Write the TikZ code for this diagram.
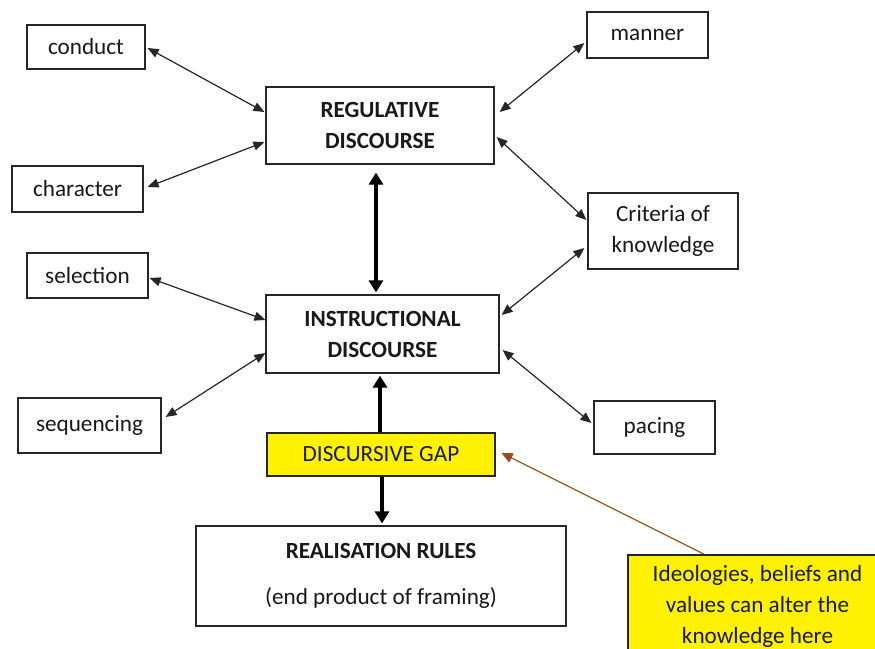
\documentclass[tikz,border=0pt]{standalone}
\usepackage{fontspec}
\setmainfont{Carlito}
\usetikzlibrary{arrows.meta,calc}
\definecolor{brownarrow}{RGB}{150,75,25}
\begin{document}
\begin{tikzpicture}[x=1pt,y=-1pt,
  box/.style={draw=black!85, line width=1.2pt, inner sep=0pt, align=center,
    font=\fontsize{23.2}{31}\selectfont, text=black!90},
  dbl/.style={{Triangle[length=11pt,width=9pt]}-{Triangle[length=11pt,width=9pt]},
    line width=1.2pt, draw=black!85},
  thickarrow/.style={-{Triangle[length=12pt,width=14pt]}, line width=3.5pt, draw=black},
  thickdbl/.style={{Triangle[length=12pt,width=14pt]}-{Triangle[length=12pt,width=14pt]}, line width=3.5pt, draw=black},
  brownarr/.style={-{Triangle[length=11pt,width=10pt]}, line width=1.2pt, draw=brownarrow, fill=brownarrow}]
\useasboundingbox (0,0) rectangle (875,648);
\clip (0,0) rectangle (875,648);
\fill[white] (0,0) rectangle (875,648);

% nodes
\node[box, minimum width=118, minimum height=44] (conduct) at (86,47) {conduct};
\node[box, minimum width=121, minimum height=46] (manner) at (647.5,35) {manner};
\node[box, minimum width=228, minimum height=77] (reg) at (380,125.5) {\textbf{REGULATIVE}\\\textbf{DISCOURSE}};
\node[box, minimum width=131, minimum height=46] (character) at (77.5,189) {character};
\node[box, minimum width=150, minimum height=76] (criteria) at (663,231) {Criteria of\\knowledge};
\node[box, minimum width=121, minimum height=45] (selection) at (87.5,275.5) {selection};
\node[box, minimum width=233, minimum height=78] (inst) at (382.5,334) {\textbf{INSTRUCTIONAL}\\\textbf{DISCOURSE}};
\node[box, minimum width=143, minimum height=55] (sequencing) at (89.5,425.5) {sequencing};
\node[box, minimum width=121, minimum height=53] (pacing) at (654.5,427.5) {pacing};
\node[box, fill=yellow, minimum width=228, minimum height=43] (gap) at (381,454.5) {DISCURSIVE GAP};
\node[box, minimum width=370, minimum height=100] (real) at (381,576) {\textbf{REALISATION RULES}\\[15pt](end product of framing)};
\node[box, fill=yellow, minimum width=259, minimum height=102] (ideo) at (757.5,606) {Ideologies, beliefs and\\values can alter the\\knowledge here};

% connectors
\draw[dbl] ($(conduct.east)+(2,1)$) -- ($(reg.west)+(-1,-13.5)$);
\draw[dbl] ($(character.east)+(4,-2)$) -- ($(reg.west)+(-1,16.5)$);
\draw[dbl] ($(manner.west)+(-2,8)$) -- ($(reg.east)+(5,-13.5)$);
\draw[dbl] ($(reg.east)+(2,11.5)$) -- ($(criteria.west)+(-1,-11)$);
\draw[thickdbl] ($(reg.south)+(-4,8)$) -- ($(inst.north)+(-6.5,-2)$);
\draw[dbl] ($(selection.east)+(1,2.5)$) -- ($(inst.west)+(0,-14)$);
\draw[dbl] ($(sequencing.east)+(4,-8.5)$) -- ($(inst.west)+(0,19)$);
\draw[dbl] ($(criteria.west)+(-3,17)$) -- ($(inst.east)+(2,-19)$);
\draw[dbl] ($(inst.east)+(3,16)$) -- ($(pacing.west)+(-2,-4.5)$);
\draw[thickarrow] ($(gap.north)+(-1,0)$) -- ($(inst.south)+(-2.5,2)$);
\draw[thickarrow] ($(gap.south)+(1,0)$) -- ($(real.north)+(1,-2)$);
\draw[brownarr] ($(ideo.north west)+(77,0)$) -- ($(gap.east)+(6,-1.5)$);
\end{tikzpicture}
\end{document}
